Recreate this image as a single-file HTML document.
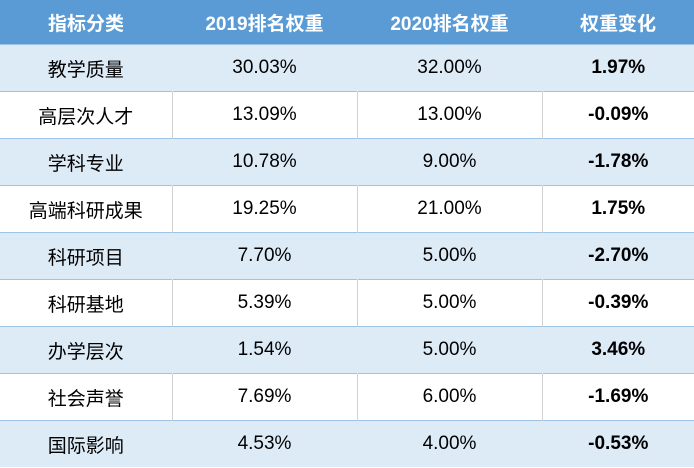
<!DOCTYPE html>
<html><head><meta charset="utf-8"><style>
body{margin:0;width:694px;height:468px;overflow:hidden;background:#fff;font-family:"Liberation Sans","Noto Sans CJK SC",sans-serif;}
table{border-collapse:collapse;width:694px;table-layout:fixed;}
th{background:#5b9bd5;color:#fff;font-size:19px;font-weight:bold;height:44px;padding:0;text-align:center;}
td{font-size:19px;color:#000;text-align:center;height:46px;padding:0;border-top:1px solid #9dc3e6;}
tr.a td{background:#ddebf7;border-left:1px solid #ddebf7;}
tr.b td{background:#fff;border-left:1px solid #d0d0d0;}
td:first-child{border-left:none!important;}
td.c{font-weight:bold;}
</style></head><body>
<table>
<colgroup><col style="width:172px"><col style="width:185px"><col style="width:185px"><col style="width:152px"></colgroup>
<tr><th>指标分类</th><th>2019排名权重</th><th>2020排名权重</th><th>权重变化</th></tr>
<tr class="a"><td>教学质量</td><td>30.03%</td><td>32.00%</td><td class="c">1.97%</td></tr>
<tr class="b"><td>高层次人才</td><td>13.09%</td><td>13.00%</td><td class="c">-0.09%</td></tr>
<tr class="a"><td>学科专业</td><td>10.78%</td><td>9.00%</td><td class="c">-1.78%</td></tr>
<tr class="b"><td>高端科研成果</td><td>19.25%</td><td>21.00%</td><td class="c">1.75%</td></tr>
<tr class="a"><td>科研项目</td><td>7.70%</td><td>5.00%</td><td class="c">-2.70%</td></tr>
<tr class="b"><td>科研基地</td><td>5.39%</td><td>5.00%</td><td class="c">-0.39%</td></tr>
<tr class="a"><td>办学层次</td><td>1.54%</td><td>5.00%</td><td class="c">3.46%</td></tr>
<tr class="b"><td>社会声誉</td><td>7.69%</td><td>6.00%</td><td class="c">-1.69%</td></tr>
<tr class="a"><td>国际影响</td><td>4.53%</td><td>4.00%</td><td class="c">-0.53%</td></tr>
</table>
</body></html>
